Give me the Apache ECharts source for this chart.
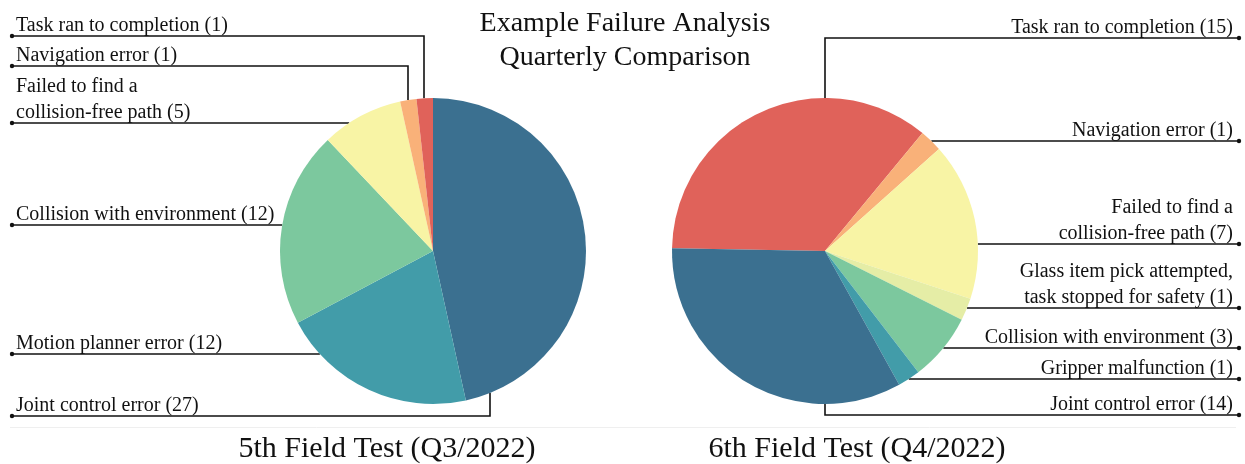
<!DOCTYPE html>
<html>
<head>
<meta charset="utf-8">
<script src="https://cdn.jsdelivr.net/npm/echarts@6/dist/echarts.min.js"></script>
<style>
  html, body { margin: 0; padding: 0; background: #fff; }
  #chart { width: 1245px; height: 464px; }
</style>
</head>
<body>
<div id="chart"></div>
<script>
  // data
  const leftNames = ['Joint control error', 'Motion planner error', 'Collision with environment',
    'Failed to find a\ncollision-free path', 'Navigation error', 'Task ran to completion'];
  const leftValues = [27, 12, 12, 5, 1, 1];
  const leftColors = ['#3b7090', '#429ca9', '#7cc89e', '#f8f4a5', '#f9b179', '#e0625a'];

  const rightNames = ['Task ran to completion', 'Navigation error', 'Failed to find a\ncollision-free path',
    'Glass item pick attempted,\ntask stopped for safety', 'Collision with environment',
    'Gripper malfunction', 'Joint control error'];
  const rightValues = [15, 1, 7, 1, 3, 1, 14];
  const rightColors = ['#e0625a', '#f9b179', '#f8f4a5', '#e5eda6', '#7cc89e', '#429ca9', '#3b7090'];

  const mainTitle = 'Example Failure Analysis\nQuarterly Comparison';
  const subTitles = ['5th Field Test (Q3/2022)', '6th Field Test (Q4/2022)'];

  // layout of the leader lines
  const R = 153;
  const leftCenter = [433, 251];
  const rightCenter = [825, 251];
  const leftLineY = [416, 354, 225, 123, 66, 36];
  const leftElbowX = [490, null, null, null, 408, 424];
  const rightLineY = [38, 141, 244, 308, 348, 379, 415];
  const rightElbowX = [825, null, null, null, null, null, 825];
  const leftDotX = 12, rightDotX = 1239;
  const leftTextX = 16, rightTextX = 1233;

  const font = "'Liberation Serif', 'Times New Roman', serif";

  function makeLayout(center, lineY, elbowX, side) {
    return function (params) {
      const i = params.dataIndex;
      const y = lineY[i];
      const ex = elbowX[i];
      const dotX = side < 0 ? leftDotX : rightDotX;
      let pts;
      if (ex != null) {
        const dy = Math.sqrt(Math.max(R * R - (ex - center[0]) * (ex - center[0]), 0));
        const ay = y < center[1] ? center[1] - dy : center[1] + dy;
        pts = [[ex, ay], [ex, y], [dotX, y]];
      } else {
        const dx = Math.sqrt(Math.max(R * R - (y - center[1]) * (y - center[1]), 0));
        const ax = center[0] + side * dx;
        pts = [[ax, y], [ax, y], [dotX, y]];
      }
      return {
        x: side < 0 ? leftTextX : rightTextX,
        y: y + 3,
        align: side < 0 ? 'left' : 'right',
        verticalAlign: 'bottom',
        labelLinePoints: pts
      };
    };
  }

  function pieSeries(names, values, colors, center, startAngle, lineY, elbowX, side) {
    return {
      type: 'pie',
      center: center,
      radius: R,
      startAngle: startAngle,
      clockwise: true,
      avoidLabelOverlap: false,
      silent: true,
      data: names.map((n, i) => ({ name: n, value: values[i], itemStyle: { color: colors[i] } })),
      label: {
        show: true,
        position: 'outside',
        formatter: '{b} ({c})',
        color: '#111',
        fontFamily: font,
        fontSize: 20,
        lineHeight: 26
      },
      labelLine: {
        show: true,
        smooth: false,
        lineStyle: { color: '#111', width: 1.6 }
      },
      labelLayout: makeLayout(center, lineY, elbowX, side)
    };
  }

  const dots = [];
  leftLineY.forEach(y => dots.push({ type: 'circle', shape: { cx: leftDotX, cy: y, r: 2.2 }, style: { fill: '#111' } }));
  rightLineY.forEach(y => dots.push({ type: 'circle', shape: { cx: rightDotX, cy: y, r: 2.2 }, style: { fill: '#111' } }));
  dots.push({ type: 'line', shape: { x1: 10, y1: 427.5, x2: 1236, y2: 427.5 }, style: { stroke: '#efefef', lineWidth: 1 } });

  const chart = echarts.init(document.getElementById('chart'));
  chart.setOption({
    animation: false,
    backgroundColor: '#fff',
    title: [
      {
        text: mainTitle, left: 620, top: 2, textAlign: 'center',
        textStyle: { fontFamily: font, fontWeight: 'normal', fontSize: 28, lineHeight: 34, color: '#111' }
      },
      {
        text: subTitles[0], left: 382, top: 427, textAlign: 'center',
        textStyle: { fontFamily: font, fontWeight: 'normal', fontSize: 30, lineHeight: 34, color: '#111' }
      },
      {
        text: subTitles[1], left: 852, top: 427, textAlign: 'center',
        textStyle: { fontFamily: font, fontWeight: 'normal', fontSize: 30, lineHeight: 34, color: '#111' }
      }
    ],
    graphic: dots,
    series: [
      pieSeries(leftNames, leftValues, leftColors, leftCenter, 90, leftLineY, leftElbowX, -1),
      pieSeries(rightNames, rightValues, rightColors, rightCenter, 179, rightLineY, rightElbowX, 1)
    ]
  });
</script>
</body>
</html>
